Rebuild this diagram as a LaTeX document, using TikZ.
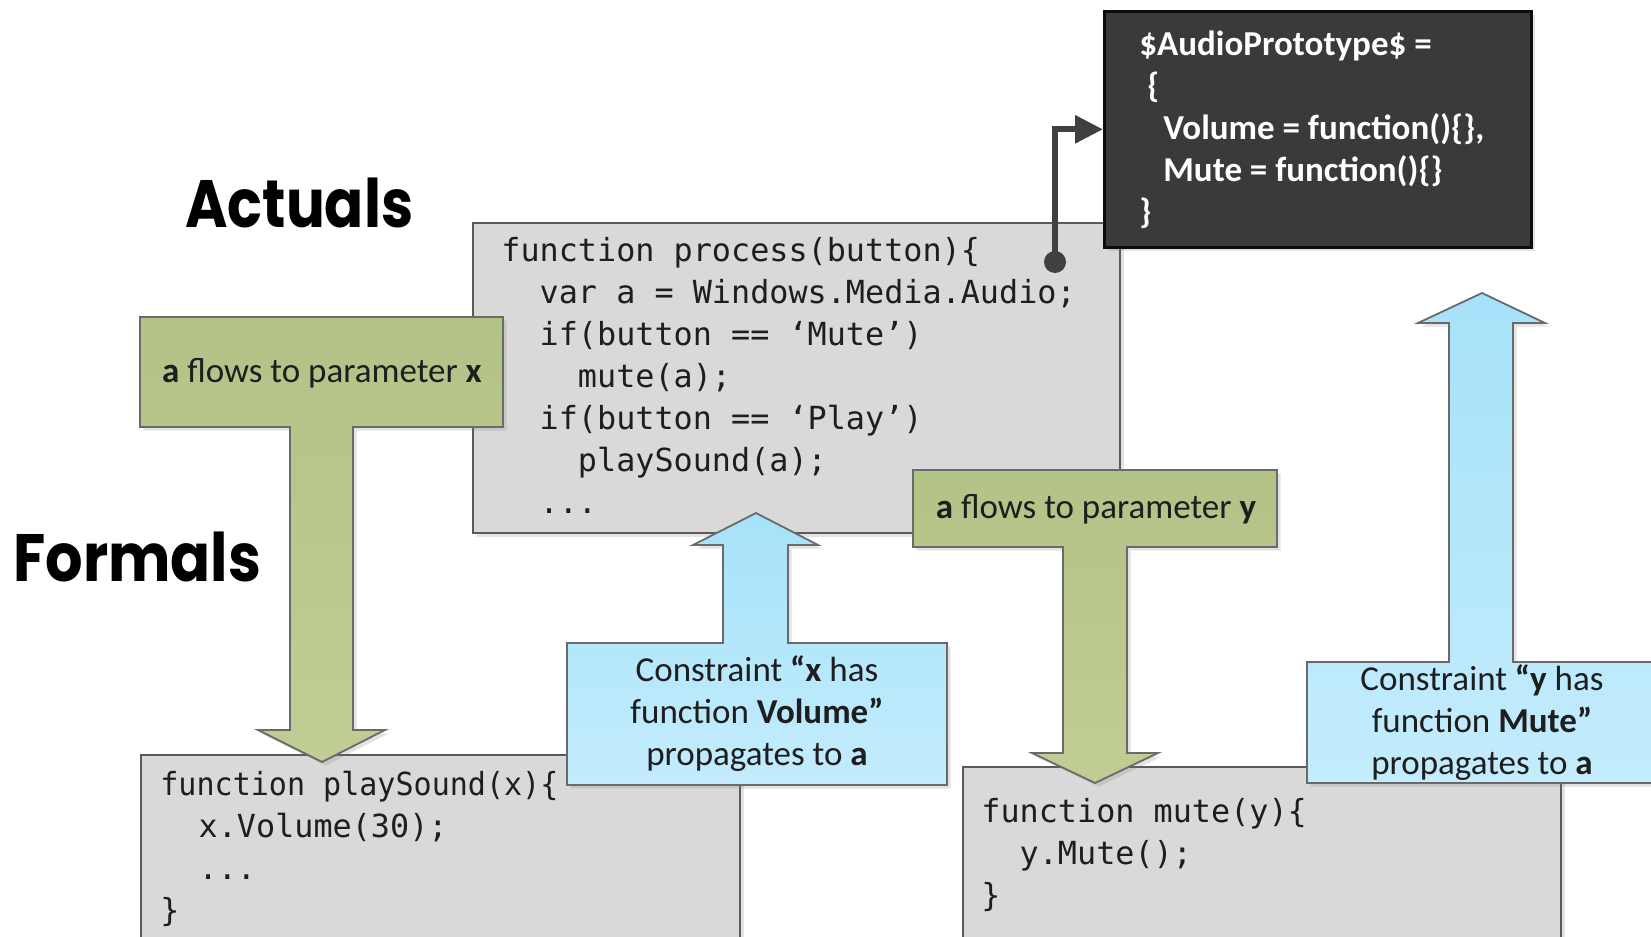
\documentclass[tikz,border=0pt]{standalone}
\usepackage{fontspec}
\usetikzlibrary{shadows,arrows.meta}
\newfontfamily\codefont{DejaVu Sans Mono}
\newfontfamily\calfont{Carlito}
\newfontfamily\headfont{Poppins}
\definecolor{codegray}{HTML}{D9D9D9}
\definecolor{codeline}{HTML}{5A5A5A}
\definecolor{codetext}{HTML}{1E1E1E}
\definecolor{protofill}{HTML}{3A3A3A}
\definecolor{protoline}{HTML}{0D0D0D}
\definecolor{greenA}{HTML}{B3C286}
\definecolor{greenB}{HTML}{C0CD94}
\definecolor{blueA}{HTML}{A6E2FA}
\definecolor{blueB}{HTML}{C3ECFC}
\definecolor{shapeline}{HTML}{6A6A6A}
\definecolor{connclr}{HTML}{404040}
\tikzset{
  softshadow/.style={drop shadow={shadow xshift=1.8pt,shadow yshift=-1.8pt,opacity=.22}},
  codebox/.style={draw=codeline,fill=codegray,line width=1pt,anchor=north west,inner sep=0pt,softshadow},
  protobox/.style={draw=protoline,fill=protofill,line width=1.3pt,anchor=north west,inner sep=0pt,softshadow},
  codetxt/.style={anchor=base west,inner sep=0pt,text=codetext},
  greenshape/.style={draw=shapeline,line width=0.9pt,top color=greenA,bottom color=greenB,softshadow},
  blueshape/.style={draw=shapeline,line width=0.9pt,top color=blueA,bottom color=blueB,softshadow},
  caltxt/.style={anchor=base,inner sep=0pt,text=codetext,font=\calfont\fontsize{17.5}{21}\selectfont},
  conn/.style={draw=connclr,line width=3pt,-{Triangle[length=14pt,width=13.5pt]}},
  heading/.style={anchor=base west,inner sep=0pt,font=\headfont\bfseries\fontsize{33.5}{40}\selectfont}
}
\newcommand\cfont{\codefont\fontsize{15.9}{21}\selectfont}
\newcommand\ind{\phantom{xx}}
\begin{document}
\begin{tikzpicture}[x=0.5pt,y=-0.5pt]
\useasboundingbox (0,0) rectangle (1651,937);

% headings
\node[heading] (actuals) at (185,227) {\scalebox{0.86}[1]{Actuals}};
\node[heading] (formals) at (13,581) {\scalebox{0.88}[1]{Formals}};

% process box
\node[codebox,minimum width=323.5pt,minimum height=155pt] (process) at (472,222) {};
\node[codetxt] (processcode) at (501,261) {\parbox[t]{310pt}{\cfont
function process(button)\{\\
\ind var a = Windows.Media.Audio;\\
\ind if(button == ‘Mute’)\\
\ind\ind mute(a);\\
\ind if(button == ‘Play’)\\
\ind\ind playSound(a);\\
\ind ...}};

% prototype box
\node[protobox,minimum width=213.5pt,minimum height=118pt] (proto) at (1103,10) {};
\node[anchor=base west,inner sep=0pt,text=white] (prototext) at (1139,55) {\parbox[t]{200pt}{\calfont\bfseries\fontsize{17.5}{21}\selectfont
\$AudioPrototype\$ =\\
\hspace*{4pt}\{\\
\hspace*{12pt}Volume = function()\{\},\\
\hspace*{12pt}Mute = function()\{\}\\
\}}};

% connector
\coordinate (dot) at (1055,262);
\fill[connclr] (dot) circle[radius=5.5pt];
\draw[conn] (dot) |- (proto.west);

% playSound box
\node[codebox,minimum width=299.5pt,minimum height=100pt] (playsound) at (140,754) {};
\node[codetxt] (playcode) at (160,795) {\parbox[t]{290pt}{\cfont
\scalebox{0.945}[1]{function playSound(x)\{}\\
\ind x.Volume(30);\\
\ind ...\\
\}}};

% mute box
\node[codebox,minimum width=299pt,minimum height=90pt] (mutebox) at (962,766) {};
\node[codetxt] (mutecode) at (981,822) {\parbox[t]{290pt}{\cfont
function mute(y)\{\\
\ind y.Mute();\\
\}}};

% green arrow 1
\path[greenshape] (140,317) -- (503,317) -- (503,427) -- (353,427) -- (353,730)
  -- (385,730) -- (322,762) -- (258,730) -- (290,730) -- (290,427) -- (140,427) -- cycle;
\node[caltxt] (flowx) at (322,382) {\textbf{a} flows to parameter \textbf{x}};

% green arrow 2
\path[greenshape] (913,470) -- (1277,470) -- (1277,547) -- (1127,547) -- (1127,753)
  -- (1158,753) -- (1095,783) -- (1032,753) -- (1063,753) -- (1063,547) -- (913,547) -- cycle;
\node[caltxt] (flowy) at (1096,518) {\textbf{a} flows to parameter \textbf{y}};

% blue arrow 1
\path[blueshape] (567,785) -- (567,643) -- (723,643) -- (723,545) -- (693,545) -- (756,513)
  -- (818,545) -- (788,545) -- (788,643) -- (947,643) -- (947,785) -- cycle;
\node[caltxt] (consx) at (757,681) {\parbox[t]{180pt}{\centering
Constraint \textbf{“x} has\\
function \textbf{Volume”}\\
propagates to \textbf{a}}};

% blue arrow 2
\path[blueshape] (1307,783) -- (1307,662) -- (1449,662) -- (1449,323) -- (1418,323) -- (1482,293)
  -- (1545,323) -- (1513,323) -- (1513,662) -- (1657,662) -- (1657,783) -- cycle;
\node[caltxt] (consy) at (1482,690) {\parbox[t]{180pt}{\centering
Constraint \textbf{“y} has\\
function \textbf{Mute”}\\
propagates to \textbf{a}}};
\end{tikzpicture}
\end{document}
